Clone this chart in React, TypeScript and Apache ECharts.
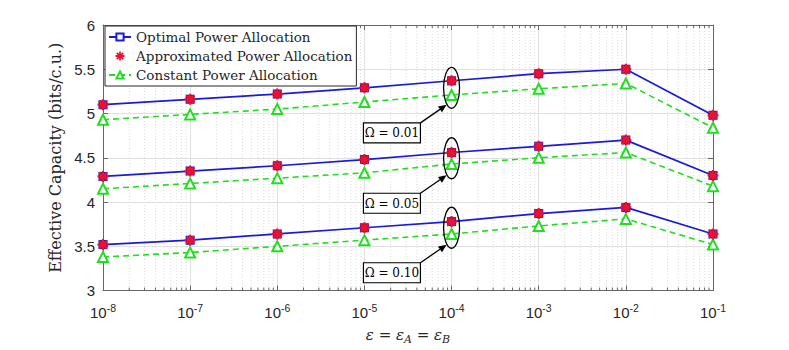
import React, { useEffect, useRef } from "react";
import * as echarts from "echarts";

// ---------- data ----------
const epsilon = [1e-8, 1e-7, 1e-6, 1e-5, 1e-4, 1e-3, 1e-2, 1e-1];
const omegaLabels = ["Ω = 0.01", "Ω = 0.05", "Ω = 0.10"];

const optimal001 = [5.1, 5.16, 5.22, 5.29, 5.37, 5.45, 5.5, 4.98];
const approx001 = [5.1, 5.16, 5.22, 5.29, 5.37, 5.45, 5.5, 4.98];
const constant001 = [4.93, 4.99, 5.05, 5.13, 5.21, 5.28, 5.34, 4.84];

const optimal005 = [4.29, 4.35, 4.41, 4.48, 4.56, 4.63, 4.7, 4.3];
const approx005 = [4.29, 4.35, 4.41, 4.48, 4.56, 4.63, 4.7, 4.3];
const constant005 = [4.15, 4.21, 4.27, 4.33, 4.43, 4.5, 4.56, 4.18];

const optimal010 = [3.52, 3.57, 3.64, 3.71, 3.78, 3.87, 3.94, 3.64];
const approx010 = [3.52, 3.57, 3.64, 3.71, 3.78, 3.87, 3.94, 3.64];
const constant010 = [3.38, 3.43, 3.5, 3.57, 3.64, 3.73, 3.81, 3.52];

const groups = [
  { optimal: optimal001, approx: approx001, constant: constant001 },
  { optimal: optimal005, approx: approx005, constant: constant005 },
  { optimal: optimal010, approx: approx010, constant: constant010 },
];

const seriesNames = [
  "Optimal Power Allocation",
  "Approximated Power Allocation",
  "Constant Power Allocation",
];

const Y_MIN = 3;
const Y_MAX = 6;
const Y_STEP = 0.5;
const X_MIN = 1e-8;
const X_MAX = 1e-1;
const ANNOT_X = 1e-4;
const BOX_X = 1e-5;

// ---------- styles ----------
const SERIF = "'DejaVu Serif', serif";
const SANS = "'Liberation Sans', Arial, sans-serif";
const AXIS_COLOR = "#666666";
const TEXT_COLOR = "#262626";
const GRID_COLOR = "#e0e0e0";
const BLUE = "#1a1ad8";
const RED = "#f0102a";
const GREEN = "#22dd22";

const ASTERISK =
  "path://M-1,-0.2L1,-0.2L1,0.2L-1,0.2ZM-0.2,-1L0.2,-1L0.2,1L-0.2,1Z" +
  "M-0.566,-0.849L0.849,0.566L0.566,0.849L-0.849,-0.566Z" +
  "M-0.849,0.566L0.566,-0.849L0.849,-0.566L-0.566,0.849Z";

function buildOption(): any {
  const series: any[] = [];
  groups.forEach((g) => {
    series.push({
      type: "line",
      name: seriesNames[2],
      data: epsilon.map((e, i) => [e, g.constant[i]]),
      symbol: "emptyTriangle",
      symbolSize: 10,
      color: GREEN,
      lineStyle: { color: GREEN, width: 1.6, type: [6, 4] },
      itemStyle: { color: GREEN, borderColor: GREEN, borderWidth: 1.5 },
      z: 2,
    });
    series.push({
      type: "line",
      name: seriesNames[0],
      data: epsilon.map((e, i) => [e, g.optimal[i]]),
      symbol: "emptyRect",
      symbolSize: 7,
      color: BLUE,
      lineStyle: { color: BLUE, width: 1.7 },
      itemStyle: { color: BLUE, borderColor: BLUE, borderWidth: 1.2 },
      z: 3,
    });
    series.push({
      type: "scatter",
      name: seriesNames[1],
      data: epsilon.map((e, i) => [e, g.approx[i]]),
      symbol: ASTERISK,
      symbolSize: 11,
      color: RED,
      itemStyle: { color: RED, opacity: 1 },
      z: 4,
    });
  });

  const xLabel = {
    formatter: (v: number) => `{b|10}{s|${Math.round(Math.log10(v))}}`,
    margin: 12,
    rich: {
      b: { fontFamily: SANS, fontSize: 15, color: TEXT_COLOR, lineHeight: 20 },
      s: {
        fontFamily: SANS,
        fontSize: 10.5,
        color: TEXT_COLOR,
        lineHeight: 12,
        verticalAlign: "top",
      },
    },
  };

  return {
    animation: false,
    backgroundColor: "#ffffff",
    grid: { left: 103, right: 76, top: 25, bottom: 53, containLabel: false },
    legend: {
      orient: "vertical",
      left: 105,
      top: 26,
      data: seriesNames,
      backgroundColor: "#ffffff",
      borderColor: TEXT_COLOR,
      borderWidth: 1,
      borderRadius: 0,
      padding: [4, 4, 4, 3],
      itemWidth: 22,
      itemHeight: 9,
      itemGap: 5,
      textStyle: { fontFamily: SERIF, fontSize: 13.5, color: TEXT_COLOR },
      z: 20,
    },
    xAxis: [
      {
        type: "log",
        logBase: 10,
        min: X_MIN,
        max: X_MAX,
        splitNumber: 7,
        position: "bottom",
        axisLine: { show: true, lineStyle: { color: AXIS_COLOR, width: 1 } },
        axisTick: { show: true, inside: true, length: 5, lineStyle: { color: AXIS_COLOR } },
        axisLabel: xLabel,
        splitLine: { show: true, lineStyle: { color: GRID_COLOR, width: 1 } },
        name: "ε = ε{sub|A} = ε{sub|B}",
        nameLocation: "middle",
        nameGap: 27,
        nameTextStyle: {
          fontFamily: SERIF,
          fontStyle: "italic",
          fontSize: 15,
          color: TEXT_COLOR,
          lineHeight: 20,
          rich: {
            sub: {
              fontFamily: SERIF,
              fontStyle: "italic",
              fontSize: 11,
              color: TEXT_COLOR,
              lineHeight: 12,
              verticalAlign: "bottom",
            },
          },
        },
      },
      {
        type: "log",
        logBase: 10,
        min: X_MIN,
        max: X_MAX,
        splitNumber: 7,
        position: "top",
        axisLine: { show: true, lineStyle: { color: AXIS_COLOR, width: 1 } },
        axisTick: { show: true, inside: true, length: 5, lineStyle: { color: AXIS_COLOR } },
        axisLabel: { show: false },
        splitLine: { show: false },
      },
    ],
    yAxis: [
      {
        type: "value",
        min: Y_MIN,
        max: Y_MAX,
        interval: Y_STEP,
        position: "left",
        axisLine: { show: true, lineStyle: { color: AXIS_COLOR, width: 1 } },
        axisTick: { show: true, inside: true, length: 5, lineStyle: { color: AXIS_COLOR } },
        axisLabel: { fontFamily: SANS, fontSize: 15, color: TEXT_COLOR, margin: 8 },
        splitLine: { show: true, lineStyle: { color: GRID_COLOR, width: 1 } },
        name: "Effective Capacity (bits/c.u.)",
        nameLocation: "middle",
        nameGap: 36,
        nameTextStyle: { fontFamily: SERIF, fontSize: 16, color: TEXT_COLOR },
      },
      {
        type: "value",
        min: Y_MIN,
        max: Y_MAX,
        interval: Y_STEP,
        position: "right",
        axisLine: { show: true, lineStyle: { color: AXIS_COLOR, width: 1 } },
        axisTick: { show: true, inside: true, length: 5, lineStyle: { color: AXIS_COLOR } },
        axisLabel: { show: false },
        splitLine: { show: false },
      },
    ],
    series,
  };
}

function buildGraphics(chart: any): any[] {
  const toPx = (x: number, y: number) =>
    chart.convertToPixel({ xAxisIndex: 0, yAxisIndex: 0 }, [x, y]) as number[];
  const els: any[] = [];
  const yTop = toPx(X_MIN, Y_MAX)[1];
  const yBot = toPx(X_MIN, Y_MIN)[1];

  // minor log ticks and dotted minor grid
  for (let d = -8; d < -1; d++) {
    for (let k = 2; k <= 9; k++) {
      const x = toPx(k * Math.pow(10, d), Y_MIN)[0];
      els.push({
        type: "line",
        silent: true,
        z: 0,
        shape: { x1: x, y1: yTop, x2: x, y2: yBot },
        style: { stroke: "#dcdcdc", lineWidth: 1, lineDash: [1, 2] },
      });
      els.push({
        type: "line",
        silent: true,
        z: 1,
        shape: { x1: x, y1: yBot, x2: x, y2: yBot - 3 },
        style: { stroke: AXIS_COLOR, lineWidth: 1 },
      });
      els.push({
        type: "line",
        silent: true,
        z: 1,
        shape: { x1: x, y1: yTop, x2: x, y2: yTop + 3 },
        style: { stroke: AXIS_COLOR, lineWidth: 1 },
      });
    }
  }

  // annotations: ellipse + arrow + label box
  const idx = epsilon.indexOf(ANNOT_X);
  groups.forEach((g, gi) => {
    const pa = toPx(ANNOT_X, g.approx[idx]);
    const pc = toPx(ANNOT_X, g.constant[idx]);
    const cx = pa[0];
    const cy = (pa[1] + pc[1]) / 2;
    els.push({
      type: "ellipse",
      silent: true,
      z: 50,
      shape: { cx, cy, rx: 8, ry: 20.5 },
      style: { fill: "none", stroke: "#000", lineWidth: 1.3 },
    });
    const boxW = 57;
    const boxH = 20;
    const bx = toPx(BOX_X, Y_MIN)[0] - 1;
    const by = cy + 35;
    els.push({
      type: "rect",
      silent: true,
      z: 50,
      shape: { x: bx, y: by, width: boxW, height: boxH },
      style: { fill: "#fff", stroke: "#000", lineWidth: 1.2 },
    });
    els.push({
      type: "text",
      silent: true,
      z: 51,
      style: {
        x: bx + boxW / 2,
        y: by + boxH / 2 + 0.5,
        text: omegaLabels[gi],
        align: "center",
        verticalAlign: "middle",
        font: `12px ${SERIF}`,
        fill: "#000",
      },
    });
    // arrow
    const sx = bx + boxW;
    const sy = by;
    const ex = cx - 5;
    const ey = cy + 17;
    const dx = ex - sx;
    const dy = ey - sy;
    const len = Math.sqrt(dx * dx + dy * dy);
    const ux = dx / len;
    const uy = dy / len;
    const hl = 8;
    const hw = 3.5;
    const baseX = ex - ux * hl;
    const baseY = ey - uy * hl;
    els.push({
      type: "line",
      silent: true,
      z: 50,
      shape: { x1: sx, y1: sy, x2: baseX, y2: baseY },
      style: { stroke: "#000", lineWidth: 1.3 },
    });
    els.push({
      type: "polygon",
      silent: true,
      z: 50,
      shape: {
        points: [
          [ex, ey],
          [baseX - uy * hw, baseY + ux * hw],
          [baseX + uy * hw, baseY - ux * hw],
        ],
      },
      style: { fill: "#000" },
    });
  });
  return els;
}

export default function App() {
  const ref = useRef<HTMLDivElement>(null);
  useEffect(() => {
    document.body.style.margin = "0";
    const chart = echarts.init(ref.current!, null, { renderer: "svg" });
    chart.setOption(buildOption());
    chart.setOption({ graphic: buildGraphics(chart) });
    return () => chart.dispose();
  }, []);
  return <div ref={ref} style={{ width: 789, height: 350 }} />;
}
